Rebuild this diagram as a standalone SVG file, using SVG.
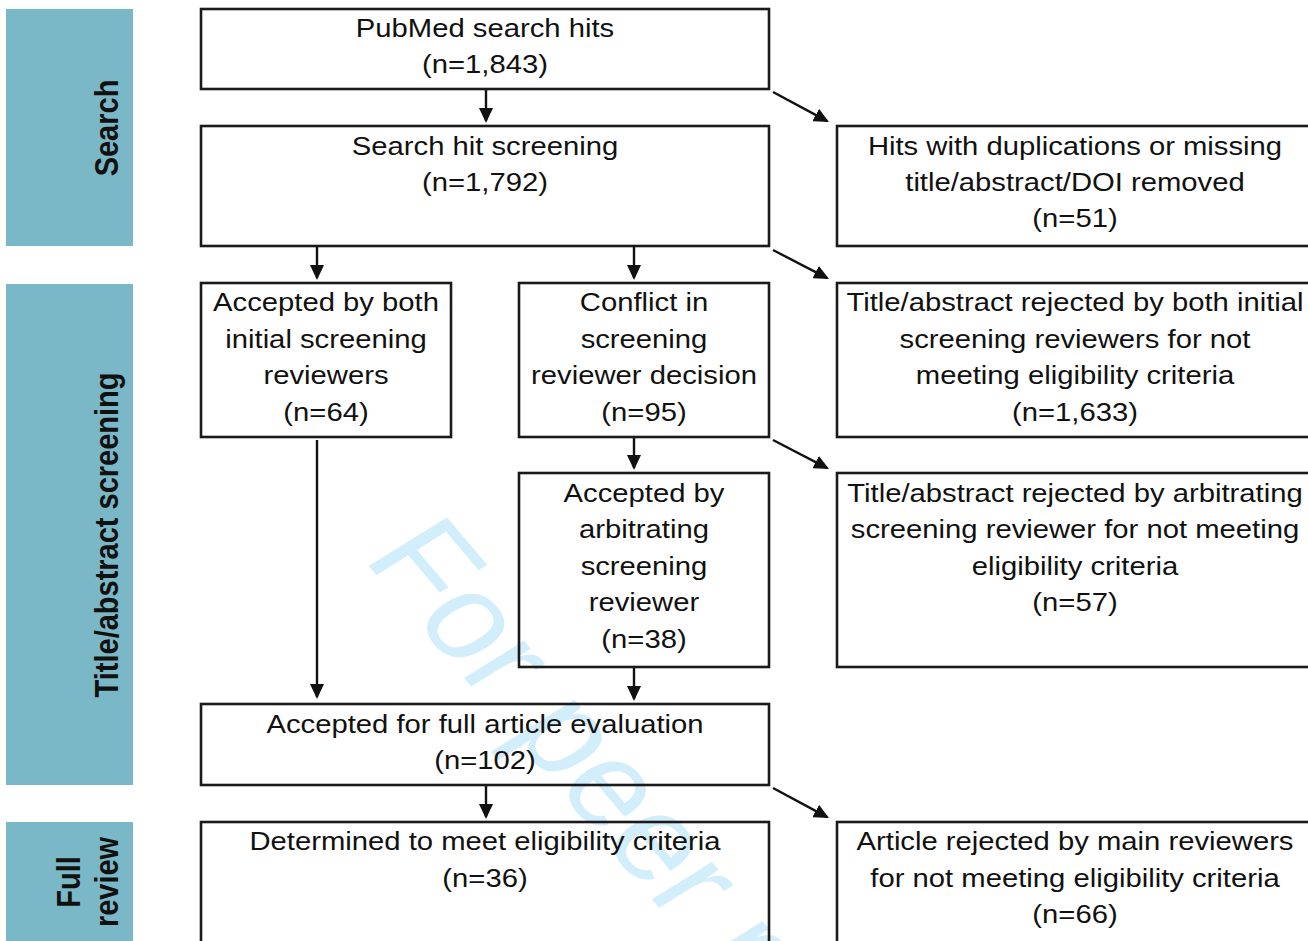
<svg xmlns="http://www.w3.org/2000/svg" width="1308" height="941" viewBox="0 0 1308 941">
  <style>
    .bar { fill: #7bb8c7; }
    .box { fill: none; stroke: #1a1a1a; stroke-width: 2.6; }
    .t { font-family: "Liberation Sans", Arial, sans-serif; font-size: 25px; fill: #111; text-anchor: middle; }
    .side { font-family: "Liberation Sans", Arial, sans-serif; font-size: 29px; font-weight: bold; fill: #111; text-anchor: middle; }
    .wm { font-family: "Liberation Sans", Arial, sans-serif; font-size: 120px; fill: #d3eefb; }
    .conn line { stroke: #111; stroke-width: 2.4; marker-end: url(#head); }
  </style>
  <defs>
    <marker id="head" markerUnits="userSpaceOnUse" markerWidth="15" markerHeight="14" refX="13" refY="7" orient="auto">
      <path d="M0,0 L15,7 L0,14 z" fill="#111"/>
    </marker>
  </defs>

  <rect width="1308" height="941" fill="#ffffff"/>

  <!-- watermark -->
  <g transform="translate(362 558) scale(1.17 1) rotate(54)">
    <text class="wm" x="0" y="0">For peer review</text>
  </g>

  <!-- phase bars -->
  <g id="phase-search">
    <rect class="bar" x="6" y="9" width="127" height="237"/>
    <text class="side" transform="translate(118 128) scale(1.17 1) rotate(-90)" x="0" y="0">Search</text>
  </g>
  <g id="phase-screening">
    <rect class="bar" x="6" y="284" width="127" height="501"/>
    <text class="side" transform="translate(118 535) scale(1.17 1) rotate(-90)" x="0" y="0">Title/abstract screening</text>
  </g>
  <g id="phase-full">
    <rect class="bar" x="6" y="822" width="127" height="125"/>
    <text class="side" transform="translate(80 882) scale(1.17 1) rotate(-90)" x="0" y="0">Full</text>
    <text class="side" transform="translate(118 882) scale(1.17 1) rotate(-90)" x="0" y="0">review</text>
  </g>

  <!-- connectors -->
  <g id="connectors" class="conn">
    <line x1="486" y1="89" x2="486" y2="121"/>
    <line x1="317" y1="246" x2="317" y2="278"/>
    <line x1="634" y1="246" x2="634" y2="278"/>
    <line x1="634" y1="437" x2="634" y2="468"/>
    <line x1="317" y1="440" x2="317" y2="697"/>
    <line x1="634" y1="667" x2="634" y2="699"/>
    <line x1="486" y1="785" x2="486" y2="817"/>
    <line x1="773" y1="92" x2="827.2" y2="121.1"/>
    <line x1="773" y1="250" x2="827.2" y2="278.1"/>
    <line x1="773" y1="440" x2="827.2" y2="468.1"/>
    <line x1="773" y1="788" x2="827.2" y2="817.1"/>
  </g>

  <!-- nodes -->
  <g id="pubmed-hits">
    <rect class="box" x="201" y="9" width="568" height="80"/>
    <text class="t" transform="translate(485 0) scale(1.17 1)"><tspan x="0" y="37">PubMed search hits</tspan><tspan x="0" y="73">(n=1,843)</tspan></text>
  </g>
  <g id="hit-screening">
    <rect class="box" x="201" y="126" width="568" height="120"/>
    <text class="t" transform="translate(485 0) scale(1.17 1)"><tspan x="0" y="155">Search hit screening</tspan><tspan x="0" y="191">(n=1,792)</tspan></text>
  </g>
  <g id="removed">
    <rect class="box" x="837" y="126" width="476" height="120"/>
    <text class="t" transform="translate(1075 0) scale(1.17 1)"><tspan x="0" y="155">Hits with duplications or missing</tspan><tspan x="0" y="191">title/abstract/DOI removed</tspan><tspan x="0" y="227">(n=51)</tspan></text>
  </g>
  <g id="accepted-both">
    <rect class="box" x="201" y="283" width="250" height="154"/>
    <text class="t" transform="translate(326 0) scale(1.17 1)"><tspan x="0" y="311">Accepted by both</tspan><tspan x="0" y="348">initial screening</tspan><tspan x="0" y="384">reviewers</tspan><tspan x="0" y="421">(n=64)</tspan></text>
  </g>
  <g id="conflict">
    <rect class="box" x="519" y="283" width="250" height="154"/>
    <text class="t" transform="translate(644 0) scale(1.17 1)"><tspan x="0" y="311">Conflict in</tspan><tspan x="0" y="348">screening</tspan><tspan x="0" y="384">reviewer decision</tspan><tspan x="0" y="421">(n=95)</tspan></text>
  </g>
  <g id="rejected-both">
    <rect class="box" x="837" y="283" width="476" height="154"/>
    <text class="t" transform="translate(1075 0) scale(1.17 1)"><tspan x="0" y="311">Title/abstract rejected by both initial</tspan><tspan x="0" y="348">screening reviewers for not</tspan><tspan x="0" y="384">meeting eligibility criteria</tspan><tspan x="0" y="421">(n=1,633)</tspan></text>
  </g>
  <g id="accepted-arbitrating">
    <rect class="box" x="519" y="473" width="250" height="194"/>
    <text class="t" transform="translate(644 0) scale(1.17 1)"><tspan x="0" y="502">Accepted by</tspan><tspan x="0" y="538">arbitrating</tspan><tspan x="0" y="575">screening</tspan><tspan x="0" y="611">reviewer</tspan><tspan x="0" y="648">(n=38)</tspan></text>
  </g>
  <g id="rejected-arbitrating">
    <rect class="box" x="837" y="473" width="476" height="194"/>
    <text class="t" transform="translate(1075 0) scale(1.17 1)"><tspan x="0" y="502">Title/abstract rejected by arbitrating</tspan><tspan x="0" y="538">screening reviewer for not meeting</tspan><tspan x="0" y="575">eligibility criteria</tspan><tspan x="0" y="611">(n=57)</tspan></text>
  </g>
  <g id="full-evaluation">
    <rect class="box" x="201" y="704" width="568" height="81"/>
    <text class="t" transform="translate(485 0) scale(1.17 1)"><tspan x="0" y="733">Accepted for full article evaluation</tspan><tspan x="0" y="769">(n=102)</tspan></text>
  </g>
  <g id="eligible">
    <rect class="box" x="201" y="822" width="568" height="130"/>
    <text class="t" transform="translate(485 0) scale(1.17 1)"><tspan x="0" y="850">Determined to meet eligibility criteria</tspan><tspan x="0" y="887">(n=36)</tspan></text>
  </g>
  <g id="rejected-full">
    <rect class="box" x="837" y="822" width="476" height="130"/>
    <text class="t" transform="translate(1075 0) scale(1.17 1)"><tspan x="0" y="850">Article rejected by main reviewers</tspan><tspan x="0" y="887">for not meeting eligibility criteria</tspan><tspan x="0" y="923">(n=66)</tspan></text>
  </g>
</svg>
